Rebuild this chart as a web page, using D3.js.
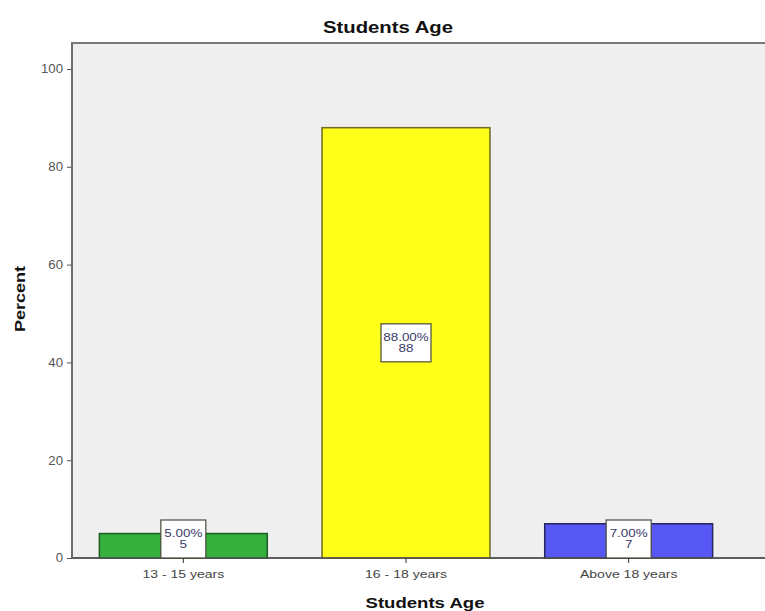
<!DOCTYPE html>
<html>
<head>
<meta charset="utf-8">
<script src="https://cdn.jsdelivr.net/npm/d3@7"></script>
<style>
  html, body { margin: 0; padding: 0; background: #ffffff; }
  svg { display: block; font-family: Arial, "Liberation Sans", sans-serif; }
</style>
</head>
<body>
<svg id="chart" width="765" height="611"></svg>
<script>
// Age groups and their share of students
const categories = ["13 - 15 years", "16  - 18 years", "Above 18 years"];
const percents = [5, 88, 7];
const counts = [5, 88, 7];
const barColors = ["#35b03d", "#ffff1a", "#5757f3"];
const barStrokes = ["#1d5a23", "#6e6a1e", "#26265e"];
const yTicks = [0, 20, 40, 60, 80, 100];

const svg = d3.select("#chart");
const plot = { left: 72, top: 43, right: 790, bottom: 558 };

const x = d3.scaleBand()
  .domain(categories)
  .range([72, 740])
  .paddingInner(0.246)
  .paddingOuter(0.123);

const y = d3.scaleLinear()
  .domain([0, 100])
  .range([558, 69]);

// Widen glyph runs a little (the chart's text is set in a broad face)
function stretch(sel, k) {
  sel.each(function () {
    const len = this.getComputedTextLength();
    d3.select(this)
      .attr("textLength", len * k)
      .attr("lengthAdjust", "spacingAndGlyphs");
  });
}

// Plot background frame
svg.append("rect")
  .attr("x", plot.left)
  .attr("y", plot.top)
  .attr("width", plot.right - plot.left)
  .attr("height", plot.bottom - plot.top)
  .attr("fill", "#efefef")
  .attr("stroke", "#7a7a7a")
  .attr("stroke-width", 2);

// Bars
svg.append("g").selectAll("rect")
  .data(categories)
  .join("rect")
  .attr("x", d => x(d))
  .attr("y", (d, i) => y(percents[i]))
  .attr("width", x.bandwidth())
  .attr("height", (d, i) => y(0) - y(percents[i]))
  .attr("fill", (d, i) => barColors[i])
  .attr("stroke", (d, i) => barStrokes[i])
  .attr("stroke-width", 1.5);

// Y axis
const yAxis = d3.axisLeft(y)
  .tickValues(yTicks)
  .tickSize(5)
  .tickPadding(4)
  .tickFormat(d3.format("d"));
const gy = svg.append("g")
  .attr("transform", `translate(${plot.left},0)`)
  .call(yAxis);
gy.select(".domain").remove();
gy.selectAll(".tick line").attr("stroke", "#555");
gy.selectAll(".tick text")
  .attr("fill", "#555")
  .style("font-size", "12px")
  .call(stretch, 1.1);

// X axis
const xAxis = d3.axisBottom(x).tickSize(5).tickPadding(7);
const gx = svg.append("g")
  .attr("transform", `translate(0,${y(0)})`)
  .call(xAxis);
gx.select(".domain")
  .attr("d", `M${plot.left},0H${plot.right}`)
  .attr("stroke", "#555")
  .attr("stroke-width", 1.5);
gx.selectAll(".tick line").attr("stroke", "#333");
gx.selectAll(".tick text")
  .attr("fill", "#444")
  .style("font-size", "11.5px")
  .call(stretch, 1.22);

// Left axis line
svg.append("line")
  .attr("x1", plot.left).attr("x2", plot.left)
  .attr("y1", plot.top).attr("y2", y(0))
  .attr("stroke", "#6a6a6a")
  .attr("stroke-width", 1.5);

// Value labels
const fmtPct = d3.format(".2f");
const boxW = [45, 50, 45];
const boxH = 38;
const labels = svg.append("g").selectAll("g")
  .data(categories)
  .join("g")
  .attr("transform", (d, i) => {
    const cx = x(d) + x.bandwidth() / 2;
    let cy = y(percents[i] / 2);
    cy = Math.min(cy, y(0) - boxH / 2);
    return `translate(${cx},${cy})`;
  });
labels.append("rect")
  .attr("x", (d, i) => -boxW[i] / 2)
  .attr("y", -boxH / 2)
  .attr("width", (d, i) => boxW[i])
  .attr("height", boxH)
  .attr("fill", "#ffffff")
  .attr("stroke", "#4a4a3a")
  .attr("stroke-width", 1.2);
labels.append("text")
  .attr("text-anchor", "middle")
  .attr("y", -2)
  .attr("fill", "#3a3a6a")
  .style("font-size", "11px")
  .text((d, i) => fmtPct(percents[i]) + "%")
  .call(stretch, 1.22);
labels.append("text")
  .attr("text-anchor", "middle")
  .attr("y", 9)
  .attr("fill", "#3a3a6a")
  .style("font-size", "11px")
  .text((d, i) => counts[i])
  .call(stretch, 1.22);

// Titles
svg.append("text")
  .attr("x", 388).attr("y", 33)
  .attr("text-anchor", "middle")
  .attr("fill", "#111")
  .style("font-size", "16px")
  .style("font-weight", "bold")
  .attr("textLength", 130)
  .attr("lengthAdjust", "spacingAndGlyphs")
  .text("Students Age");

svg.append("text")
  .attr("x", 425).attr("y", 608)
  .attr("text-anchor", "middle")
  .attr("fill", "#111")
  .style("font-size", "15px")
  .style("font-weight", "bold")
  .attr("textLength", 119)
  .attr("lengthAdjust", "spacingAndGlyphs")
  .text("Students Age");

svg.append("text")
  .attr("transform", "translate(25,299) rotate(-90)")
  .attr("text-anchor", "middle")
  .attr("fill", "#111")
  .style("font-size", "14px")
  .style("font-weight", "bold")
  .attr("textLength", 66)
  .attr("lengthAdjust", "spacingAndGlyphs")
  .text("Percent");
</script>
</body>
</html>
